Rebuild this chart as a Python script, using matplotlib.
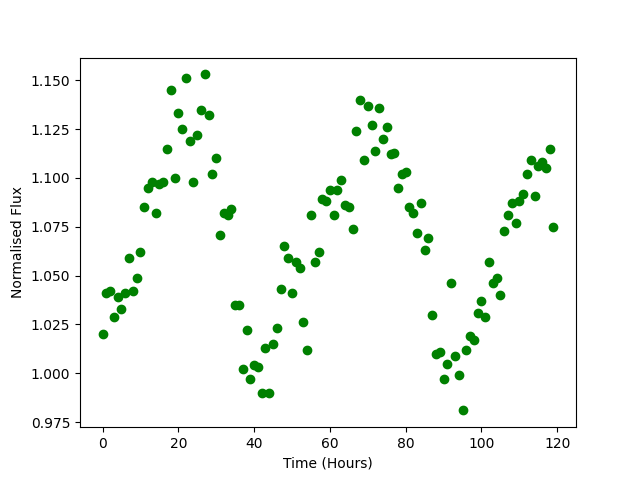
import numpy as np
import matplotlib
matplotlib.use('Agg')
import matplotlib.pyplot as plt

# time in hours, one reading per hour
time_hours = np.arange(0, 120)

flux = [1.020, 1.041, 1.042, 1.029, 1.039, 1.033, 1.041, 1.059, 1.042, 1.049,
        1.062, 1.085, 1.095, 1.098, 1.082, 1.097, 1.098, 1.115, 1.145, 1.100,
        1.133, 1.125, 1.151, 1.119, 1.098, 1.122, 1.135, 1.153, 1.132, 1.102,
        1.110, 1.071, 1.082, 1.081, 1.084, 1.035, 1.035, 1.002, 1.022, 0.997,
        1.004, 1.003, 0.990, 1.013, 0.990, 1.015, 1.023, 1.043, 1.065, 1.059,
        1.041, 1.057, 1.054, 1.026, 1.012, 1.081, 1.057, 1.062, 1.089, 1.088,
        1.094, 1.081, 1.094, 1.099, 1.086, 1.085, 1.074, 1.124, 1.140, 1.109,
        1.137, 1.127, 1.114, 1.136, 1.120, 1.126, 1.112, 1.113, 1.095, 1.102,
        1.103, 1.085, 1.082, 1.072, 1.087, 1.063, 1.069, 1.030, 1.010, 1.011,
        0.997, 1.005, 1.046, 1.009, 0.999, 0.981, 1.012, 1.019, 1.017, 1.031,
        1.037, 1.029, 1.057, 1.046, 1.049, 1.040, 1.073, 1.081, 1.087, 1.077,
        1.088, 1.092, 1.102, 1.109, 1.091, 1.106, 1.108, 1.105, 1.115, 1.075]

fig, ax = plt.subplots(figsize=(6.4, 4.8), dpi=100)
ax.plot(time_hours, flux, 'o', color='green')
ax.set_xlabel('Time (Hours)')
ax.set_ylabel('Normalised Flux')
fig.savefig('out.png')
